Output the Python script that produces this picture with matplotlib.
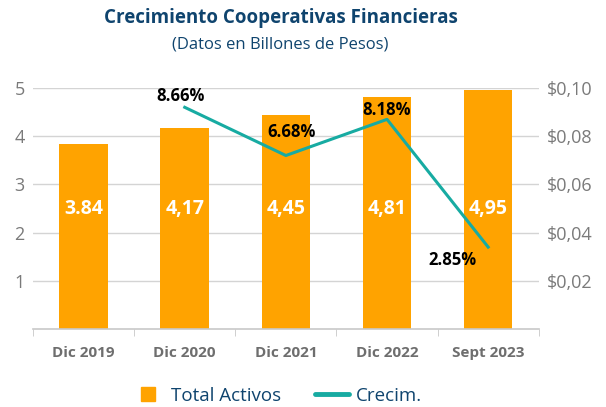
import matplotlib
matplotlib.use('Agg')
import matplotlib.pyplot as plt
from matplotlib.lines import Line2D

plt.rcParams['font.family'] = ['Open Sans', 'DejaVu Sans']

# datos
categorias = ['Dic 2019', 'Dic 2020', 'Dic 2021', 'Dic 2022', 'Sept 2023']
activos = [3.84, 4.17, 4.45, 4.81, 4.95]
activos_txt = ['3.84', '4,17', '4,45', '4,81', '4,95']
crecim_x = [1, 2, 3, 4]
crecim = [0.092, 0.072, 0.087, 0.034]
crecim_txt = ['8.66%', '6.68%', '8.18%', '2.85%']
izq_ticks = [1, 2, 3, 4, 5]
der_ticks = [0.02, 0.04, 0.06, 0.08, 0.10]
der_txt = ['$0,02', '$0,04', '$0,06', '$0,08', '$0,10']

naranja = '#FFA300'
verde = '#17ABA2'
azul = '#0F446E'
gris = '#7A7A7A'

fig = plt.figure(figsize=(6.06, 4.07), dpi=100)
ax = fig.add_axes([0.0545, 0.1916, 0.8345, 0.5921])

x = list(range(len(categorias)))
ax.bar(x, activos, width=0.48, color=naranja, zorder=2)
for xi, v, t in zip(x, activos, activos_txt):
    ax.text(xi, 2.5, t, ha='center', va='center', color='white',
            fontsize=14, fontweight='bold', zorder=4)

ax.set_xlim(-0.5, 4.5)
ax.set_ylim(0, 5)
ax.set_yticks(izq_ticks)
ax.yaxis.grid(True, color='#D4D4D4', linewidth=1)
ax.set_axisbelow(True)
ax.tick_params(axis='y', length=0, labelsize=13, labelcolor=gris, pad=6)
ax.set_xticks(x)
ax.set_xticklabels(categorias, fontsize=11, fontweight='bold', color='#6E6E6E')
ax.set_xticks([i - 0.5 for i in range(len(categorias) + 1)], minor=True)
ax.tick_params(axis='x', which='major', length=0, pad=12)
ax.tick_params(axis='x', which='minor', length=5, color='#C8C8C8')
for s in ['top', 'left', 'right']:
    ax.spines[s].set_visible(False)
ax.spines['bottom'].set_color('#C8C8C8')
ax.spines['bottom'].set_linewidth(1.2)

ax2 = ax.twinx()
ax2.set_ylim(0, 0.10)
ax2.set_yticks(der_ticks)
ax2.set_yticklabels(der_txt)
ax2.tick_params(axis='y', length=0, labelsize=13, labelcolor=gris, pad=6)
for s in ['top', 'left', 'right', 'bottom']:
    ax2.spines[s].set_visible(False)
ax2.plot(crecim_x, crecim, color=verde, linewidth=2.2, zorder=3)

offsets = [(-3, 8), (4, 17), (0, 7), (-26, -9)]
for xi, v, t, off in zip(crecim_x, crecim, crecim_txt, offsets):
    ax2.annotate(t, (xi, v), xytext=off, textcoords='offset points',
                 ha='center', va='center', fontsize=12, fontweight='bold',
                 color='black', zorder=5)

fig.text(0.464, 0.955, 'Crecimiento Cooperativas Financieras', ha='center',
         va='center', fontsize=13.5, fontweight='bold', color=azul)
fig.text(0.462, 0.89, '(Datos en Billones de Pesos)', ha='center',
         va='center', fontsize=12, color=azul)

handles = [Line2D([0], [0], marker='s', linestyle='none', markersize=10.5,
                  color=naranja),
           Line2D([0], [0], color=verde, linewidth=3.5,
                  solid_capstyle='round')]
fig.legend(handles, ['Total Activos', 'Crecim.'], loc='center',
           bbox_to_anchor=(0.456, 0.027), ncol=2, frameon=False,
           fontsize=13.5, labelcolor=azul, handlelength=1.8,
           columnspacing=1.8, handletextpad=0.35)

fig.savefig('out.png', dpi=100)
